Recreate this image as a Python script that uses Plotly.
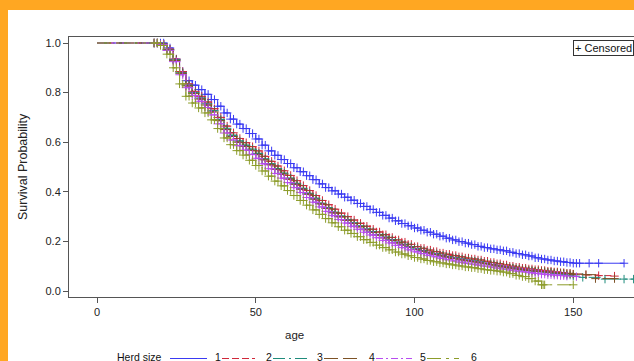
import plotly.graph_objects as go

# ---------------- data ----------------
AGE_GRID = [0, 18, 20, 22, 24, 26, 28, 30, 32, 34, 36, 38, 40, 42, 44, 46, 48, 50,
            52, 54, 56, 58, 60, 62, 64, 66, 68, 70, 72, 74, 76, 78, 80, 82, 84, 86,
            88, 90, 92, 94, 96, 98, 100, 102, 104, 106, 108, 110, 112, 114, 116,
            118, 120, 122, 124, 126, 128, 130, 132, 134, 136, 138, 140]

SURV_1 = [1.0, 1.0, 1.0, 0.98, 0.935, 0.885, 0.848, 0.83, 0.812, 0.793, 0.772, 0.745,
          0.718, 0.693, 0.673, 0.655, 0.635, 0.613, 0.588, 0.565, 0.547, 0.53, 0.514,
          0.497, 0.481, 0.465, 0.449, 0.432, 0.417, 0.404, 0.391, 0.378, 0.366, 0.353,
          0.341, 0.329, 0.317, 0.305, 0.294, 0.283, 0.272, 0.263, 0.254, 0.245, 0.237,
          0.229, 0.221, 0.213, 0.206, 0.199, 0.193, 0.187, 0.18, 0.175, 0.17, 0.166,
          0.162, 0.156, 0.151, 0.146, 0.141, 0.134, 0.129]
SURV_2 = [1.0, 1.0, 0.995, 0.975, 0.935, 0.885, 0.835, 0.805, 0.785, 0.762, 0.735, 0.7,
          0.665, 0.638, 0.615, 0.598, 0.582, 0.565, 0.543, 0.523, 0.504, 0.485, 0.466,
          0.445, 0.425, 0.405, 0.385, 0.365, 0.348, 0.33, 0.314, 0.3, 0.286, 0.273,
          0.261, 0.249, 0.238, 0.227, 0.216, 0.206, 0.197, 0.188, 0.179, 0.172, 0.165,
          0.159, 0.153, 0.148, 0.143, 0.138, 0.133, 0.129, 0.125, 0.12, 0.115, 0.11,
          0.105, 0.1, 0.096, 0.092, 0.089, 0.086, 0.083]
SURV_3 = [1.0, 1.0, 0.995, 0.973, 0.932, 0.88, 0.83, 0.8, 0.778, 0.755, 0.727, 0.692,
          0.656, 0.628, 0.605, 0.588, 0.572, 0.555, 0.533, 0.513, 0.494, 0.475, 0.455,
          0.434, 0.414, 0.394, 0.374, 0.354, 0.336, 0.318, 0.302, 0.288, 0.275, 0.262,
          0.25, 0.239, 0.228, 0.217, 0.207, 0.197, 0.188, 0.179, 0.17, 0.163, 0.156,
          0.15, 0.144, 0.139, 0.134, 0.129, 0.125, 0.121, 0.117, 0.112, 0.107, 0.102,
          0.097, 0.093, 0.089, 0.085, 0.082, 0.079, 0.077]
SURV_4 = [1.0, 1.0, 0.995, 0.972, 0.93, 0.878, 0.827, 0.796, 0.774, 0.75, 0.722, 0.687,
          0.651, 0.623, 0.6, 0.583, 0.567, 0.55, 0.529, 0.509, 0.49, 0.471, 0.451,
          0.43, 0.41, 0.39, 0.37, 0.351, 0.333, 0.315, 0.299, 0.285, 0.272, 0.259,
          0.247, 0.236, 0.225, 0.214, 0.204, 0.194, 0.185, 0.176, 0.167, 0.16, 0.153,
          0.147, 0.141, 0.136, 0.131, 0.126, 0.122, 0.118, 0.114, 0.11, 0.105, 0.1,
          0.096, 0.092, 0.088, 0.085, 0.082, 0.08, 0.078]
SURV_5 = [1.0, 1.0, 0.994, 0.97, 0.925, 0.872, 0.82, 0.788, 0.765, 0.74, 0.71, 0.674,
          0.637, 0.609, 0.586, 0.568, 0.551, 0.535, 0.513, 0.493, 0.474, 0.455, 0.437,
          0.417, 0.397, 0.377, 0.358, 0.339, 0.321, 0.304, 0.288, 0.274, 0.261, 0.249,
          0.237, 0.226, 0.215, 0.204, 0.194, 0.184, 0.175, 0.166, 0.158, 0.151, 0.144,
          0.138, 0.132, 0.126, 0.121, 0.116, 0.112, 0.108, 0.104, 0.1, 0.096, 0.092,
          0.088, 0.084, 0.08, 0.077, 0.074, 0.071, 0.068]
SURV_6 = [1.0, 1.0, 0.99, 0.955, 0.9, 0.835, 0.785, 0.758, 0.738, 0.718, 0.69, 0.655,
          0.617, 0.59, 0.566, 0.548, 0.527, 0.506, 0.484, 0.463, 0.443, 0.424, 0.405,
          0.385, 0.365, 0.346, 0.327, 0.309, 0.292, 0.275, 0.259, 0.245, 0.232, 0.219,
          0.207, 0.196, 0.185, 0.175, 0.166, 0.157, 0.149, 0.142, 0.135, 0.129, 0.123,
          0.118, 0.113, 0.109, 0.105, 0.101, 0.097, 0.094, 0.09, 0.086, 0.083, 0.08,
          0.076, 0.07, 0.063, 0.058, 0.05, 0.04, 0.025]

TAIL_AGE_1 = [142, 144, 146, 148, 150, 152, 155, 158, 166]
TAIL_SURV_1 = [0.125, 0.121, 0.118, 0.115, 0.112, 0.112, 0.112, 0.112, 0.112]
TAIL_AGE_2 = [142, 144, 146, 148, 150, 154, 158, 163]
TAIL_SURV_2 = [0.08, 0.077, 0.074, 0.071, 0.068, 0.065, 0.062, 0.06]
TAIL_AGE_3 = [142, 144, 146, 148, 150, 153, 160, 166, 169, 175]
TAIL_SURV_3 = [0.074, 0.071, 0.068, 0.064, 0.06, 0.055, 0.048, 0.048, 0.048, 0.048]
TAIL_AGE_4 = [142, 144, 146, 148, 150, 154, 157, 163]
TAIL_SURV_4 = [0.076, 0.074, 0.072, 0.07, 0.068, 0.066, 0.05, 0.05]
TAIL_AGE_5 = [142, 144, 146, 148, 151]
TAIL_SURV_5 = [0.066, 0.064, 0.062, 0.06, 0.058]
TAIL_AGE_6 = [141, 150]
TAIL_SURV_6 = [0.025, 0.025]

GROUPS = ["1", "2", "3", "4", "5", "6"]
Y_TICKS = [0.0, 0.2, 0.4, 0.6, 0.8, 1.0]
X_TICKS = [0, 50, 100, 150]

# ---------------- styling ----------------
COLORS = ["#3a3af2", "#d0283a", "#1f8c7c", "#7d5226", "#b84cf0", "#8c9c2a"]
DASHES = ["solid", "7px,3px", "12px,4px,2px,4px", "14px,5px", "7px,3px,2px,3px",
          "14px,5px,3px,5px"]
FONT = "Liberation Sans, Arial, sans-serif"

series = [
    (SURV_1, TAIL_AGE_1, TAIL_SURV_1),
    (SURV_2, TAIL_AGE_2, TAIL_SURV_2),
    (SURV_3, TAIL_AGE_3, TAIL_SURV_3),
    (SURV_4, TAIL_AGE_4, TAIL_SURV_4),
    (SURV_5, TAIL_AGE_5, TAIL_SURV_5),
    (SURV_6, TAIL_AGE_6, TAIL_SURV_6),
]

fig = go.Figure()
for i, (surv, tail_age, tail_surv) in enumerate(series):
    xs = AGE_GRID + tail_age
    ys = surv + tail_surv
    fig.add_trace(go.Scatter(
        x=xs, y=ys, mode="lines", line_shape="hv",
        line=dict(color=COLORS[i], width=1, dash=DASHES[i]),
        name=GROUPS[i], showlegend=False, hoverinfo="skip"))
    # censor marks sit on the step function: at each step and mid-way along each flat run
    mx, my = [], []
    for j in range(1, len(xs)):
        mx.append(xs[j]); my.append(ys[j])
        if j + 1 < len(xs) and xs[j + 1] - xs[j] <= 2:
            mx.append((xs[j] + xs[j + 1]) / 2); my.append(ys[j])
    fig.add_trace(go.Scatter(
        x=mx, y=my, mode="markers",
        marker=dict(symbol="cross-thin", size=6,
                    line=dict(color=COLORS[i], width=1)),
        showlegend=False, hoverinfo="skip"))

# pixel helpers (plot area: x 69..634, y 37..297)
L, R, T, B = 69, 634, 37, 297
def px_x(p):
    return (p - L) / (R - L)
def px_y(p):
    return (B - p) / (B - T)

shapes = [
    # orange frame strips
    dict(type="rect", xref="paper", yref="paper", x0=px_x(-5), x1=px_x(640),
         y0=px_y(10), y1=px_y(-5), fillcolor="#ffa722", line=dict(width=0), layer="above"),
    dict(type="rect", xref="paper", yref="paper", x0=px_x(-5), x1=px_x(8),
         y0=px_y(370), y1=px_y(-5), fillcolor="#ffa722", line=dict(width=0), layer="above"),
]

annotations = [
    dict(text="age", x=px_x(294), y=px_y(335), xref="paper", yref="paper",
         xanchor="center", yanchor="middle",
         showarrow=False, font=dict(size=11.5, color="#222", family=FONT)),
    dict(text="Survival Probability", x=px_x(23), y=0.5, xref="paper", yref="paper",
         xanchor="center", yanchor="middle",
         showarrow=False, textangle=-90, font=dict(size=12.5, color="#222", family=FONT)),
    dict(text="+ Censored", x=px_x(573), y=px_y(48.5), xref="paper", yref="paper",
         xanchor="left", yanchor="middle", showarrow=False, bgcolor="white",
         bordercolor="#333", borderwidth=1, borderpad=1,
         font=dict(size=11, color="#111", family=FONT)),
    dict(text="Herd size", x=px_x(115), y=px_y(357), xref="paper", yref="paper",
         xanchor="left", yanchor="middle", showarrow=False,
         font=dict(size=10.5, color="#111", family=FONT)),
]

LEG_LINE = [(170, 207), (222, 255), (273, 308), (324, 361), (376, 412), (427, 459)]
LEG_TEXT = [213, 264, 315, 367, 418, 469]
for i, g in enumerate(GROUPS):
    x0, x1 = LEG_LINE[i]
    shapes.append(dict(type="line", xref="paper", yref="paper",
                       x0=px_x(x0), x1=px_x(x1), y0=px_y(358.5), y1=px_y(358.5),
                       line=dict(color=COLORS[i], width=1, dash=DASHES[i])))
    annotations.append(dict(text=g, x=px_x(LEG_TEXT[i]), y=px_y(357), xref="paper",
                            yref="paper", xanchor="left", yanchor="middle",
                            showarrow=False, font=dict(size=10.5, color="#111", family=FONT)))

fig.update_layout(
    width=634, height=361,
    margin=dict(l=L, r=634 - R, t=T, b=361 - B),
    paper_bgcolor="white", plot_bgcolor="white",
    font=dict(family=FONT, size=11, color="#222"),
    shapes=shapes, annotations=annotations,
    showlegend=False,
)
fig.update_xaxes(
    range=[(L - 97) / 3.175, (R - 97) / 3.175],
    tickvals=X_TICKS, ticks="outside", ticklen=5, tickcolor="#555",
    showline=True, linecolor="#555", linewidth=1, mirror=True,
    showgrid=False, zeroline=False, tickfont=dict(size=11, color="#222"),
)
fig.update_yaxes(
    range=[-6 / 248, 1 + 6 / 248],
    tickvals=Y_TICKS, tickformat=".1f", ticks="outside", ticklen=5, tickcolor="#555",
    showline=True, linecolor="#555", linewidth=1, mirror=False,
    showgrid=False, zeroline=False, tickfont=dict(size=11, color="#222"),
)

fig.write_html(
    "out.html",
    config={"displayModeBar": False},
    post_script="document.body.style.margin='0';document.body.style.overflow='hidden';",
)
